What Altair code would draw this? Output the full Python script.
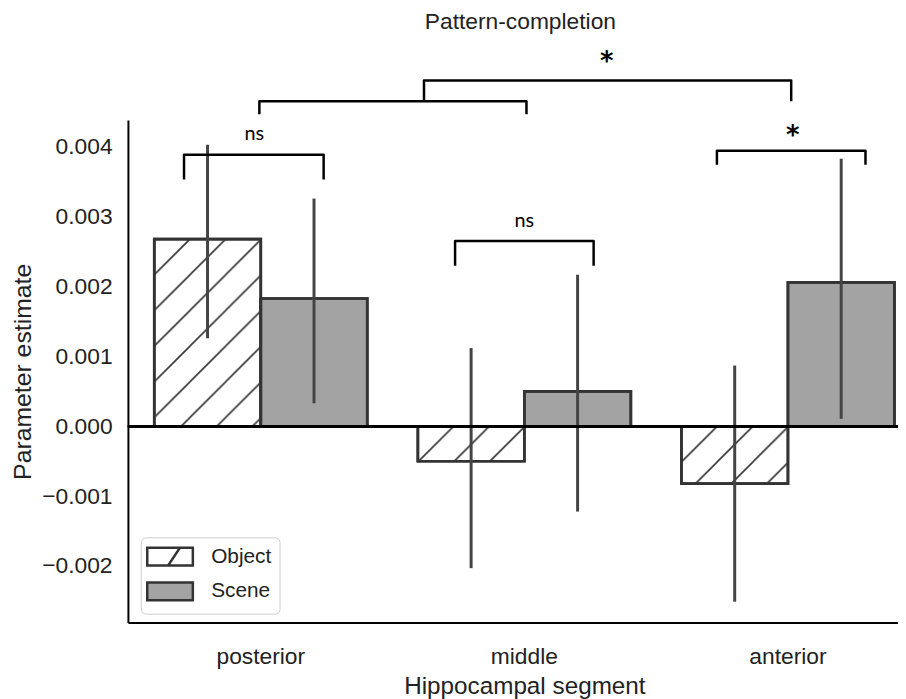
import altair as alt
import pandas as pd
import base64

# ---------------- data ----------------
segments = ["posterior", "middle", "anterior"]
conditions = ["Object", "Scene"]

bar_segment = ["posterior", "posterior", "middle", "middle", "anterior", "anterior"]
bar_condition = ["Object", "Scene", "Object", "Scene", "Object", "Scene"]
bar_mean = [0.00268, 0.00183, -0.00050, 0.00050, -0.00082, 0.00206]
ci_low = [0.00126, 0.00033, -0.00203, -0.00122, -0.00251, 0.00011]
ci_high = [0.00403, 0.00326, 0.00112, 0.00217, 0.00087, 0.00383]

y_ticks = [-0.002, -0.001, 0.0, 0.001, 0.002, 0.003, 0.004]
y_domain = [-0.002809, 0.004383]

# significance brackets (x in category units: 0=posterior, 1=middle, 2=anterior)
br_name = ["post", "mid", "ant", "low", "high"]
br_x1 = [-0.290, 0.739, 1.733, -0.004, 0.621]
br_x2 = [0.240, 1.265, 2.297, 1.010, 2.015]
br_top = [0.003887, 0.002652, 0.003943, 0.004652, 0.004950]
br_leg = [0.003532, 0.002298, 0.003745, 0.004468, 0.004652]

ns_x = [-0.023, 1.002]
ns_y = [0.00410, 0.002851]
star_x = [2.021, 1.315]
star_y = [0.004160, 0.005220]

# ---------------- tables ----------------
bars = pd.DataFrame({
    "segment": bar_segment, "condition": bar_condition,
    "mean": bar_mean, "lo": ci_low, "hi": ci_high,
})
pts = []
for n, a, b, t, l in zip(br_name, br_x1, br_x2, br_top, br_leg):
    pts += [(n, 0, a, l), (n, 1, a, t), (n, 2, b, t), (n, 3, b, l)]
brackets = pd.DataFrame(pts, columns=["bracket", "k", "bx", "by"])
ns_df = pd.DataFrame({"tx": ns_x, "ty": ns_y, "label": ["ns"] * len(ns_x)})
star_df = pd.DataFrame({"tx": star_x, "ty": star_y, "label": ["*"] * len(star_x)})

# ---------------- styling ----------------
FONT = "Liberation Sans"
TXT = "#222222"
xscale = alt.Scale(domain=segments, paddingInner=0.192, paddingOuter=0.1)
offscale = alt.Scale(domain=conditions, paddingInner=0, paddingOuter=0)
yscale = alt.Scale(domain=y_domain, nice=False, zero=False)
uscale = alt.Scale(domain=[-0.503, 2.507], nice=False, zero=False)

hatch_svg = (
    '<svg xmlns="http://www.w3.org/2000/svg" width="100%" height="100%">'
    '<defs><pattern id="h" width="36" height="36" patternUnits="userSpaceOnUse">'
    '<path d="M-9,9 L9,-9 M0,36 L36,0 M27,45 L45,27" stroke="#333333" '
    'stroke-width="1.6" fill="none"/></pattern></defs>'
    '<rect width="100%" height="100%" fill="url(#h)"/></svg>'
)
hatch_url = "data:image/svg+xml;base64," + base64.b64encode(hatch_svg.encode()).decode()

path_rect = "M-2.3,-0.9H2.3V0.9H-2.3Z"
path_obj = path_rect + " M-0.2,0.9L1.0,-0.9"

x_axis = alt.Axis(title="Hippocampal segment", labelAngle=0, ticks=False,
                  domainColor="black", domainWidth=2, labelFontSize=23,
                  titleFontSize=24.5, labelPadding=23, titlePadding=7,
                  labelColor=TXT, titleColor=TXT, titleFontWeight="normal")
y_axis = alt.Axis(title="Parameter estimate", values=y_ticks, format=".3f",
                  ticks=False, grid=False, domainColor="black", domainWidth=2,
                  labelFontSize=23, titleFontSize=25, labelPadding=16,
                  titlePadding=6, labelColor=TXT, titleColor=TXT,
                  titleFontWeight="normal")

x_main = alt.X("segment:N", sort=segments, scale=xscale, axis=x_axis)
xoff = alt.XOffset("condition:N", sort=conditions, scale=offscale)


def yq(field):
    return alt.Y(field, scale=yscale, axis=y_axis)


legend = alt.Legend(
    title=None, orient="none", legendX=13, legendY=421,
    symbolType=alt.ExprRef(f"datum.value === 'Object' ? '{path_obj}' : '{path_rect}'"),
    symbolSize=400, symbolStrokeColor="#333333", symbolStrokeWidth=2.5, symbolOffset=10,
    labelFontSize=21, labelFont=FONT, labelColor=TXT, labelOffset=30, rowPadding=6,
    padding=8, strokeColor="#cccccc", cornerRadius=5, fillColor="white",
)

base = alt.Chart(bars)

bar_fill = base.mark_bar(stroke="#333333", strokeWidth=2.7).encode(
    x=x_main, xOffset=xoff, y=yq("mean:Q"), y2=alt.datum(0),
    fill=alt.Fill("condition:N", scale=alt.Scale(domain=conditions,
                                                  range=["#ffffff", "#a3a3a3"]),
                  legend=legend),
)
hatch = base.transform_filter(alt.datum.condition == "Object").mark_image(aspect=False).encode(
    x=x_main, xOffset=xoff, y=yq("mean:Q"), y2=alt.datum(0),
    url=alt.value(hatch_url),
)
outline = base.mark_bar(fillOpacity=0, stroke="#333333", strokeWidth=2.7).encode(
    x=x_main, xOffset=xoff, y=yq("mean:Q"), y2=alt.datum(0),
)
errs = base.mark_rule(color="#444444", strokeWidth=3).encode(
    x=x_main, xOffset=xoff, y=yq("lo:Q"), y2="hi:Q",
)
zero = base.mark_rule(color="black", strokeWidth=2.5).encode(
    y=alt.Y(datum=0, scale=yscale, axis=y_axis)
)

main = alt.layer(bar_fill, hatch, outline, errs, zero)

br = alt.Chart(brackets).mark_line(color="black", strokeWidth=2.5, strokeJoin="round").encode(
    x=alt.X("bx:Q", scale=uscale, axis=None),
    y=yq("by:Q"),
    detail="bracket:N", order="k:O",
)
ns_text = alt.Chart(ns_df).mark_text(font="Lato", fontSize=20, color="black",
                                     align="center", baseline="alphabetic").encode(
    x=alt.X("tx:Q", scale=uscale, axis=None),
    y=yq("ty:Q"), text="label:N",
)
star_text = alt.Chart(star_df).mark_text(font="DejaVu Sans", fontSize=26, fontWeight="bold",
                                         color="black", align="center",
                                         baseline="middle").encode(
    x=alt.X("tx:Q", scale=uscale, axis=None),
    y=yq("ty:Q"), text="label:N",
)
annot = alt.layer(br, ns_text, star_text)

chart = alt.layer(main, annot).resolve_scale(x="independent").properties(
    width=800, height=507,
    autosize=alt.AutoSizeParams(type="none"),
    padding={"left": 121, "top": 110, "right": -23, "bottom": 74},
    title=alt.TitleParams("Pattern-completion", fontSize=23, font=FONT,
                          fontWeight="normal", color=TXT, frame="group",
                          baseline="alphabetic", offset=-3, dx=-4),
).configure(font=FONT).configure_view(stroke=None)

chart.save("out.html", embed_options={"renderer": "svg", "actions": False})
